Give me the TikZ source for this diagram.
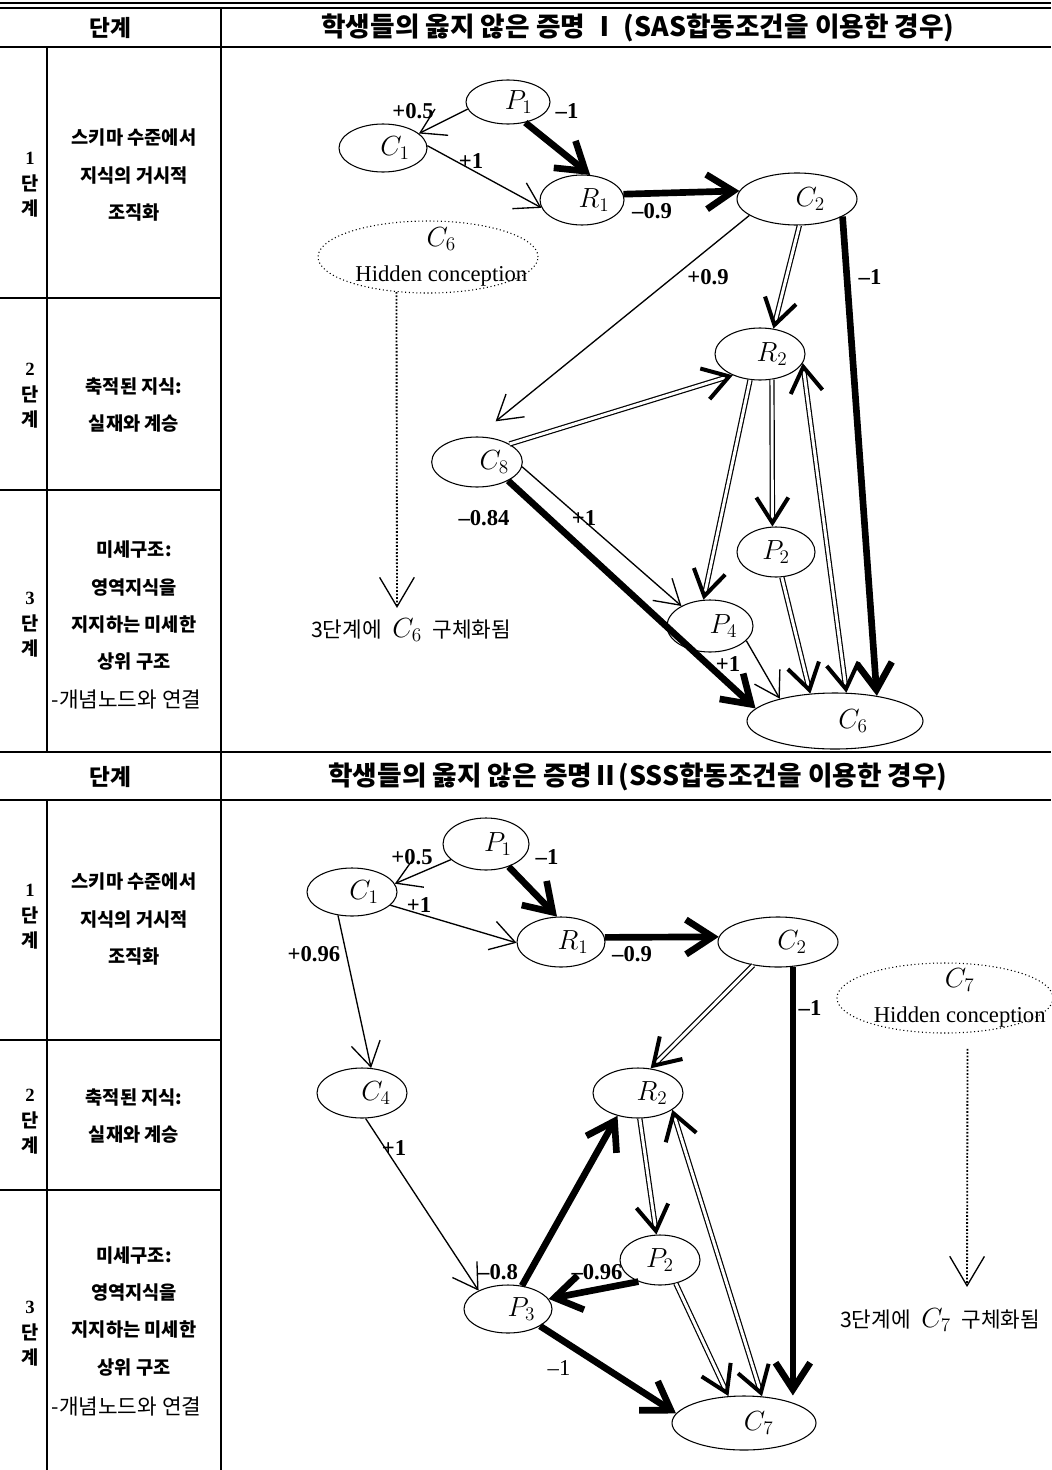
\documentclass[tikz,border=0pt]{standalone}
\usepackage{fontspec}
\setmainfont{Liberation Serif}
\newfontfamily\kr{Noto Sans CJK KR}
\usetikzlibrary{arrows.meta,shapes.geometric,decorations.markings}
\begin{document}
\begin{tikzpicture}[x=0.75pt,y=-0.75pt,
  rule/.style={line width=0.9pt},
  hrule/.style={line width=1.3pt},
  nd/.style={draw, ellipse, line width=0.8pt, inner sep=0pt, font=\fontsize{20}{22}\selectfont},
  hid/.style={draw, ellipse, dotted, line width=0.8pt, inner sep=0pt},
  hidlab/.style={align=center, font=\fontsize{17}{26}\selectfont},
  thinarr/.style={line width=1pt, -{Straight Barb[length=18pt,width=22pt]}},
  thickarr/.style={line width=5pt, -{Straight Barb[length=20pt,width=26pt]}},
  dbase/.style={draw, double=white, double distance=2.2pt, line width=0.9pt},
  dblarr/.style={draw=none,
     postaction={dbase, shorten >=4pt},
     postaction={decorate, decoration={markings,
        mark=at position 1 with {\arrow{Straight Barb[length=19pt,width=24pt,line width=3pt]}}}}},
  dblboth/.style={draw=none,
     postaction={dbase, shorten >=4pt, shorten <=4pt},
     postaction={decorate, decoration={markings,
        mark=at position 0 with {\arrowreversed{Straight Barb[length=19pt,width=24pt,line width=3pt]}},
        mark=at position 1 with {\arrow{Straight Barb[length=19pt,width=24pt,line width=3pt]}}}}},
  dotarr/.style={line width=1.4pt, dash pattern=on 1.3pt off 1.3pt, -{Straight Barb[length=22pt,width=26pt,line width=1pt]}},
  elab/.style={font=\bfseries\fontsize{17}{18}\selectfont, inner sep=1pt},
  elabr/.style={font=\fontsize{17}{18}\selectfont, inner sep=1pt},
  cell/.style={font=\kr\bfseries\fontsize{14}{28}\selectfont, align=center},
  cellr/.style={font=\kr\fontsize{16}{28}\selectfont, anchor=west},
  stg/.style={font=\bfseries\fontsize{14}{19}\selectfont, align=center},
  hd/.style={font=\kr\bfseries\fontsize{17}{20}\selectfont},
  hdt/.style={font=\kr\bfseries\fontsize{20}{22}\selectfont},
  note/.style={font=\kr\fontsize{16}{18}\selectfont}
]
\useasboundingbox (0,0) rectangle (1051,1470);

% ---------- table ----------
\draw[rule] (0,3) -- (1051,3);
\draw[rule] (0,8) -- (1051,8);
\draw[hrule] (0,47) -- (1051,47);
\draw[rule] (221,8) -- (221,1470);
\draw[rule] (47,47) -- (47,752);
\draw[rule] (0,298) -- (221,298);
\draw[rule] (0,490) -- (221,490);
\draw[hrule] (0,752) -- (1051,752);
\draw[hrule] (0,800) -- (1051,800);
\draw[rule] (47,800) -- (47,1470);
\draw[rule] (0,1040) -- (221,1040);
\draw[rule] (0,1190) -- (221,1190);

\node[hd] (h1a) at (110,28) {단계};
\node[hdt] (h1b) at (638,28) {학생들의 옳지 않은 증명 Ⅰ (SAS합동조건을 이용한 경우)};
\node[hd] (h2a) at (110,777) {단계};
\node[hdt] (h2b) at (638,777) {학생들의 옳지 않은 증명Ⅱ(SSS합동조건을 이용한 경우)};

\node[stg] (ts1) at (30,185) {1\\{\kr 단}\\{\kr 계}};
\node[stg] (ts2) at (30,396) {2\\{\kr 단}\\{\kr 계}};
\node[stg] (ts3) at (30,625) {3\\{\kr 단}\\{\kr 계}};
\node[cell] (tc1) at (134,175) {스키마 수준에서\\지식의 거시적\\조직화};
\node[cell] (tc2) at (134,405) {축적된 지식:\\실재와 계승};
\node[cell] (tc3) at (134,606) {미세구조:\\영역지식을\\지지하는 미세한\\상위 구조};
\node[cellr] (tc3b) at (47,700) {-개념노드와 연결};

\node[stg] (bs1) at (30,917) {1\\{\kr 단}\\{\kr 계}};
\node[stg] (bs2) at (30,1122) {2\\{\kr 단}\\{\kr 계}};
\node[stg] (bs3) at (30,1334) {3\\{\kr 단}\\{\kr 계}};
\node[cell] (bc1) at (134,919) {스키마 수준에서\\지식의 거시적\\조직화};
\node[cell] (bc2) at (134,1116) {축적된 지식:\\실재와 계승};
\node[cell] (bc3) at (134,1311) {미세구조:\\영역지식을\\지지하는 미세한\\상위 구조};
\node[cellr] (bc3b) at (47,1406) {-개념노드와 연결};

% ---------- top diagram ----------
\node[nd, minimum width=63pt, minimum height=33pt] (t-P1) at (508,102) {\hspace*{16pt}$P_1$};
\node[nd, minimum width=66pt, minimum height=36pt] (t-C1) at (383,148) {\hspace*{18pt}$C_1$};
\node[nd, minimum width=63pt, minimum height=37.5pt] (t-R1) at (582,200) {\hspace*{18pt}$R_1$};
\node[nd, minimum width=90pt, minimum height=39pt] (t-C2) at (797,199) {\hspace*{20pt}$C_2$};
\node[nd, minimum width=67.5pt, minimum height=39pt] (t-R2) at (760,354) {\hspace*{18pt}$R_2$};
\node[nd, minimum width=66pt, minimum height=37.5pt] (t-C8) at (477,462) {\hspace*{26pt}$C_8$};
\node[nd, minimum width=58.5pt, minimum height=37.5pt] (t-P2) at (776,552) {$P_2$};
\node[nd, minimum width=64.5pt, minimum height=39pt] (t-P4) at (710,626) {\hspace*{20pt}$P_4$};
\node[nd, minimum width=132pt, minimum height=42pt] (t-C6) at (835,721) {\hspace*{27pt}$C_6$};
\node[hid, minimum width=165pt, minimum height=54pt,
      label={[hidlab, xshift=10pt]center:{{\fontsize{20}{26}\selectfont$C_6$}\\Hidden conception}}] (t-C6h) at (428,257) {};
\coordinate (t-c6e) at (397,608);
\node[note] (t-n6) at (411,630) {3단계에\hspace{8pt}{\fontsize{20}{20}\selectfont$C_6$}\hspace{8pt}구체화됨};

\draw[thinarr] (t-P1.190) -- (t-C1.22);
\draw[thickarr] (t-P1.-50) -- (t-R1.72);
\draw[thinarr] (t-C1.3) -- (t-R1.191);
\draw[thickarr] (t-R1.8) -- (t-C2.172);
\draw[thinarr, shorten >=18pt] (t-C2.199) -- (t-C8.north);
\draw[dblarr] (t-C2.-85) -- (t-R2.62);
\draw[thickarr] (t-C2.-21) -- (t-C6.31);
\draw[dblarr] (t-C8.29) -- (t-R2.218);
\draw[dblarr] (t-R2.249) -- (t-P4.104);
\draw[dblarr] (t-R2.-65) -- (t-P2.98);
\draw[dblboth] (t-R2.-12) -- (t-C6.68);
\draw[thickarr] (t-C8.-31) -- (t-C6.171);
\draw[thinarr] (t-C8.-6) -- (t-P4.145);
\draw[thinarr] (t-P4.-22) -- (t-C6.158);
\draw[dblarr] (t-P2.-77) -- (t-C6.132);
\draw[dotarr] (t-C6h.-132) -- (t-c6e);

\node[elab] (tl1) at (413,111) {+0.5};
\node[elab] (tl2) at (567,111) {–1};
\node[elab] (tl3) at (471,161) {+1};
\node[elab] (tl4) at (652,211) {–0.9};
\node[elab] (tl5) at (708,277) {+0.9};
\node[elab] (tl6) at (870,277) {–1};
\node[elab] (tl7) at (484,518) {–0.84};
\node[elab] (tl8) at (584,518) {+1};
\node[elab] (tl9) at (728,664) {+1};

% ---------- bottom diagram ----------
\node[nd, minimum width=64.5pt, minimum height=39pt] (b-P1) at (486,844) {\hspace*{18pt}$P_1$};
\node[nd, minimum width=67.5pt, minimum height=36pt] (b-C1) at (352,892) {\hspace*{18pt}$C_1$};
\node[nd, minimum width=66pt, minimum height=37.5pt] (b-R1) at (561,942) {\hspace*{18pt}$R_1$};
\node[nd, minimum width=90pt, minimum height=37.5pt] (b-C2) at (778,942) {\hspace*{21pt}$C_2$};
\node[nd, minimum width=67.5pt, minimum height=37.5pt] (b-C4) at (362,1093) {\hspace*{21pt}$C_4$};
\node[nd, minimum width=67.5pt, minimum height=37.5pt] (b-R2) at (638,1093) {\hspace*{21pt}$R_2$};
\node[nd, minimum width=60pt, minimum height=37.5pt] (b-P2) at (660,1260) {$P_2$};
\node[nd, minimum width=66pt, minimum height=36pt] (b-P3) at (508,1309) {\hspace*{20pt}$P_3$};
\node[nd, minimum width=108pt, minimum height=40.5pt] (b-C7) at (744,1423) {\hspace*{22pt}$C_7$};
\node[hid, minimum width=162pt, minimum height=52.5pt,
      label={[hidlab, xshift=11pt]center:{{\fontsize{20}{26}\selectfont$C_7$}\\Hidden conception}}] (b-C7h) at (945,998) {};
\coordinate (b-c7e) at (967,1287);
\node[note] (b-n7) at (940,1320) {3단계에\hspace{8pt}{\fontsize{20}{20}\selectfont$C_7$}\hspace{8pt}구체화됨};

\draw[thinarr] (b-P1.204) -- (b-C1.11);
\draw[thickarr] (b-P1.-45) -- (b-R1.99);
\draw[thinarr] (b-C1.-19) -- (b-R1.181);
\draw[thickarr] (b-R1.6) -- (b-C2.175);
\draw[thinarr] (b-C1.239) -- (b-C4.70);
\draw[dblarr] (b-C2.223) -- (b-R2.63);
\draw[thickarr] (b-C2.-59) -- (b-C2.-59 |- b-C7.north);
\draw[thinarr] (b-C4.-82) -- (b-P3.148);
\draw[thickarr] (b-P3.59) -- (b-R2.228);
\draw[dblarr] (b-R2.-86) -- (b-P2.98);
\draw[dblboth] (b-R2.-26) -- (b-C7.56);
\draw[thickarr] (b-P2.225) -- (b-P3.14);
\draw[thickarr] (b-P3.-28) -- (b-C7.172);
\draw[dblarr] (b-P2.-56) -- (b-C7.120);
\draw[dotarr, shorten <=12pt] (b-C7h.-57) -- (b-c7e);

\node[elab] (bl1) at (412,857) {+0.5};
\node[elab] (bl2) at (547,857) {–1};
\node[elab] (bl3) at (419,905) {+1};
\node[elab] (bl4) at (632,954) {–0.9};
\node[elab] (bl5) at (314,954) {+0.96};
\node[elab] (bl6) at (810,1008) {–1};
\node[elab] (bl7) at (394,1148) {+1};
\node[elab] (bl8) at (498,1272) {–0.8};
\node[elab] (bl9) at (597,1272) {–0.96};
\node[elabr] (bl10) at (559,1368) {–1};
\end{tikzpicture}
\end{document}
